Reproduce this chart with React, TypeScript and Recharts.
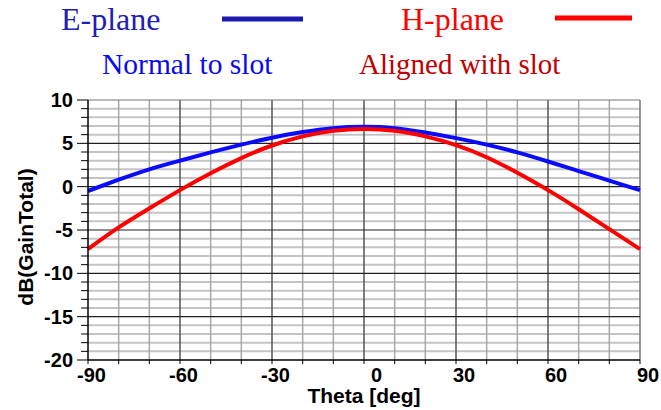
import { CartesianGrid, Line, LineChart, ReferenceLine, XAxis, YAxis } from 'recharts'

const theta = [-90, -80, -70, -60, -50, -40, -30, -20, -10, 0, 10, 20, 30, 40, 50, 60, 70, 80, 90]
const ePlane = [-0.5, 0.8, 2.0, 3.0, 3.95, 4.85, 5.65, 6.3, 6.75, 6.9, 6.75, 6.25, 5.6, 4.85, 3.95, 2.9, 1.8, 0.7, -0.4]
const hPlane = [-7.2, -4.7, -2.5, -0.4, 1.55, 3.3, 4.75, 5.8, 6.45, 6.65, 6.45, 5.8, 4.8, 3.4, 1.6, -0.4, -2.6, -4.9, -7.2]

const xTicks = [-90, -80, -70, -60, -50, -40, -30, -20, -10, 0, 10, 20, 30, 40, 50, 60, 70, 80, 90]
const yTicks = [-20, -19, -18, -17, -16, -15, -14, -13, -12, -11, -10, -9, -8, -7, -6, -5, -4, -3, -2, -1, 0, 1, 2, 3, 4, 5, 6, 7, 8, 9, 10]

const data = theta.map((t, i) => ({ theta: t, e: ePlane[i], h: hPlane[i] }))

const labelFont = { fontFamily: 'Liberation Sans, Arial, sans-serif', fontWeight: 700, fontSize: 20 }
const titleFont = { ...labelFont, fontSize: 21 }
const serif = 'Liberation Serif, Times New Roman, serif'

const YTick = ({ x, y, payload }: any) => {
  const v = payload.value
  const major = v % 5 === 0
  return (
    <g>
      <line x1={x - (major ? 11 : 7)} x2={x} y1={y} y2={y} stroke="#000" strokeWidth={1} />
      {major && (
        <text x={x - 15} y={y + 7} textAnchor="end" fill="#000" {...labelFont}>
          {v}
        </text>
      )}
    </g>
  )
}

const XTick = ({ x, y, payload }: any) => {
  const v = payload.value
  const dx = v < 0 ? -11 : v === 0 ? 7 : -3
  return (
    <g>
      <line x1={x} x2={x} y1={y} y2={y + 4} stroke="#000" strokeWidth={1} />
      {v % 30 === 0 && (
        <text x={x + dx} y={y + 22} textAnchor="start" fill="#000" {...labelFont}>
          {v}
        </text>
      )}
    </g>
  )
}

export default function App() {
  return (
    <div style={{ position: 'absolute', left: 0, top: 0, width: 661, height: 410, background: '#fff' }}>
      <LineChart
        width={661}
        height={410}
        data={data}
        margin={{ top: 100, right: 21, bottom: 0, left: 28 }}
      >
        <CartesianGrid horizontal={false} vertical={false} />
        {yTicks
          .filter((v) => v % 5 !== 0)
          .map((v) => (
            <ReferenceLine key={`hy${v}`} y={v} stroke="#c4c4c4" strokeWidth={2} />
          ))}
        {xTicks
          .filter((v) => v % 30 !== 0)
          .map((v) => (
            <ReferenceLine key={`vx${v}`} x={v} stroke="#a8a8a8" strokeWidth={1.5} />
          ))}
        {xTicks
          .filter((v) => v % 30 === 0 && v !== -90)
          .map((v) => (
            <ReferenceLine key={`mx${v}`} x={v} stroke={v === 90 ? '#777' : '#555'} strokeWidth={1.5} />
          ))}
        {yTicks
          .filter((v) => v % 5 === 0 && v !== -20)
          .map((v) => (
            <ReferenceLine key={`my${v}`} y={v} stroke={v === 10 ? '#777' : '#222'} strokeWidth={1.2} />
          ))}
        <XAxis
          dataKey="theta"
          type="number"
          domain={[-90, 90]}
          ticks={xTicks}
          interval={0}
          height={50}
          tickSize={0}
          tickMargin={0}
          tickLine={false}
          axisLine={{ stroke: '#000', strokeWidth: 1.5 }}
          tick={<XTick />}
        />
        <YAxis
          type="number"
          domain={[-20, 10]}
          ticks={yTicks}
          interval={0}
          width={60}
          tickSize={0}
          tickMargin={0}
          tickLine={false}
          axisLine={{ stroke: '#000', strokeWidth: 1.5 }}
          tick={<YTick />}
        />
        <Line type="natural" dataKey="e" stroke="#0a0aff" strokeWidth={4} dot={false} isAnimationActive={false} />
        <Line type="natural" dataKey="h" stroke="#ff0000" strokeWidth={4} dot={false} isAnimationActive={false} />
      </LineChart>
      <svg
        width={661}
        height={410}
        style={{ position: 'absolute', left: 0, top: 0, pointerEvents: 'none' }}
      >
        <text x={61} y={30} fontFamily={serif} fontSize={32} fill="#2020b4">
          E-plane
        </text>
        <line x1={222} x2={303} y1={19} y2={19} stroke="#1a1ab0" strokeWidth={5} />
        <text x={401} y={30} fontFamily={serif} fontSize={32} fill="#ff0000">
          H-plane
        </text>
        <line x1={555} x2={632} y1={18} y2={18} stroke="#ff0000" strokeWidth={5} />
        <text x={102} y={74} fontFamily={serif} fontSize={29.5} fill="#0a0af0">
          Normal to slot
        </text>
        <text x={359} y={74} fontFamily={serif} fontSize={29} fill="#c00000">
          Aligned with slot
        </text>
        <text x={364} y={403} textAnchor="middle" fill="#000" {...titleFont}>
          Theta [deg]
        </text>
        <text
          x={33}
          y={237}
          textAnchor="middle"
          transform="rotate(-90, 33, 237)"
          fill="#000"
          {...titleFont}
        >
          dB(GainTotal)
        </text>
      </svg>
    </div>
  )
}
